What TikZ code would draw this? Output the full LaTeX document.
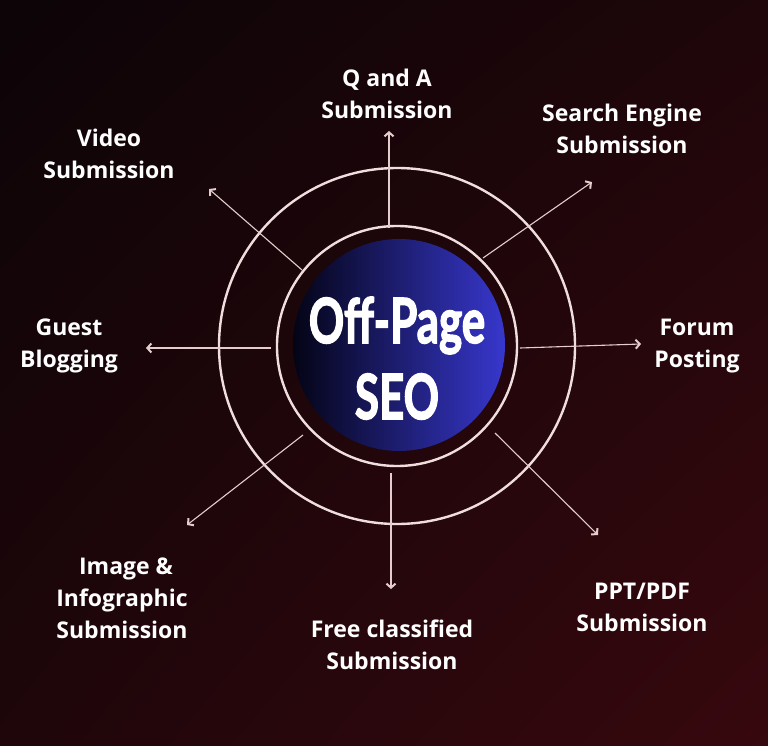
\documentclass[tikz,border=0pt]{standalone}
\usepackage{fontspec}
\usepackage{graphicx}
\setmainfont{Open Sans}
\newfontfamily\hubfont[FakeBold=2.5]{Lato}
\usetikzlibrary{arrows.meta,shadings}
\definecolor{bgA}{RGB}{12,4,7}
\definecolor{bgB}{RGB}{30,6,10}
\definecolor{bgC}{RGB}{55,8,14}
\definecolor{ringcol}{RGB}{240,222,222}
\definecolor{arrcol}{RGB}{230,205,205}
\definecolor{diskL}{RGB}{4,4,22}
\definecolor{diskR}{RGB}{55,55,205}
\tikzset{
  ring/.style={draw=ringcol, line width=2.4pt, circle, inner sep=0pt},
  arr/.style={draw=arrcol, line width=1.1pt, -{Straight Barb[length=4pt,width=9pt,line width=2pt]}},
  lbl/.style={text=white, font=\bfseries\fontsize{23}{32}\selectfont, align=center, inner sep=0pt},
  hubtxt/.style={text=white, inner sep=0pt, anchor=base},
}
\begin{document}
\begin{tikzpicture}[x=1pt,y=-1pt]
\useasboundingbox (0,0) rectangle (768,746);
\shade[upper left=bgA, upper right=bgB, lower left=bgB, lower right=bgC] (0,0) rectangle (768,746);
% disk
\begin{scope}
\clip (399,345) circle (106);
\shade[left color=diskL, right color=diskR] (293,239) rectangle (505,451);
\end{scope}
\node[ring, minimum size=356pt] (outer) at (397,346) {};
\node[ring, minimum size=240pt] (inner) at (397,346) {};
\node[hubtxt] (hub1) at (397,343) {\scalebox{0.72}[1.02]{\hubfont\bfseries\fontsize{61}{68}\selectfont Off-Page}};
\node[hubtxt] (hub2) at (397,419) {\scalebox{0.72}[1.02]{\hubfont\bfseries\fontsize{61}{68}\selectfont SEO}};
% arrow ends
\coordinate (s1) at (389,228); \coordinate (t1) at (389,131);
\coordinate (s2) at (483,258); \coordinate (t2) at (592,182);
\coordinate (s3) at (520,348); \coordinate (t3) at (641,344);
\coordinate (s4) at (495,433); \coordinate (t4) at (598,535);
\coordinate (s5) at (391,473); \coordinate (t5) at (391,589);
\coordinate (s6) at (303,435); \coordinate (t6) at (187,525);
\coordinate (s7) at (271,348); \coordinate (t7) at (146,348);
\coordinate (s8) at (302,270); \coordinate (t8) at (209,189);
\foreach \i in {1,...,8} \draw[arr] (s\i) -- (t\i);
% labels
\node[lbl] (qa) at (387,94) {Q and A\\Submission};
\node[lbl] (se) at (622,129) {Search Engine\\Submission};
\node[lbl] (vs) at (109,154) {Video\\Submission};
\node[lbl] (gb) at (69,346) {Guest\\Blogging};
\node[lbl] (fp) at (697,346) {Forum\\Posting};
\node[lbl] (ii) at (122,598) {\hspace*{8pt}Image \&\\Infographic\\Submission};
\node[lbl] (fc) at (392,645) {Free classified\\Submission};
\node[lbl] (pp) at (642,607) {PPT/PDF\\Submission};
\end{tikzpicture}
\end{document}
